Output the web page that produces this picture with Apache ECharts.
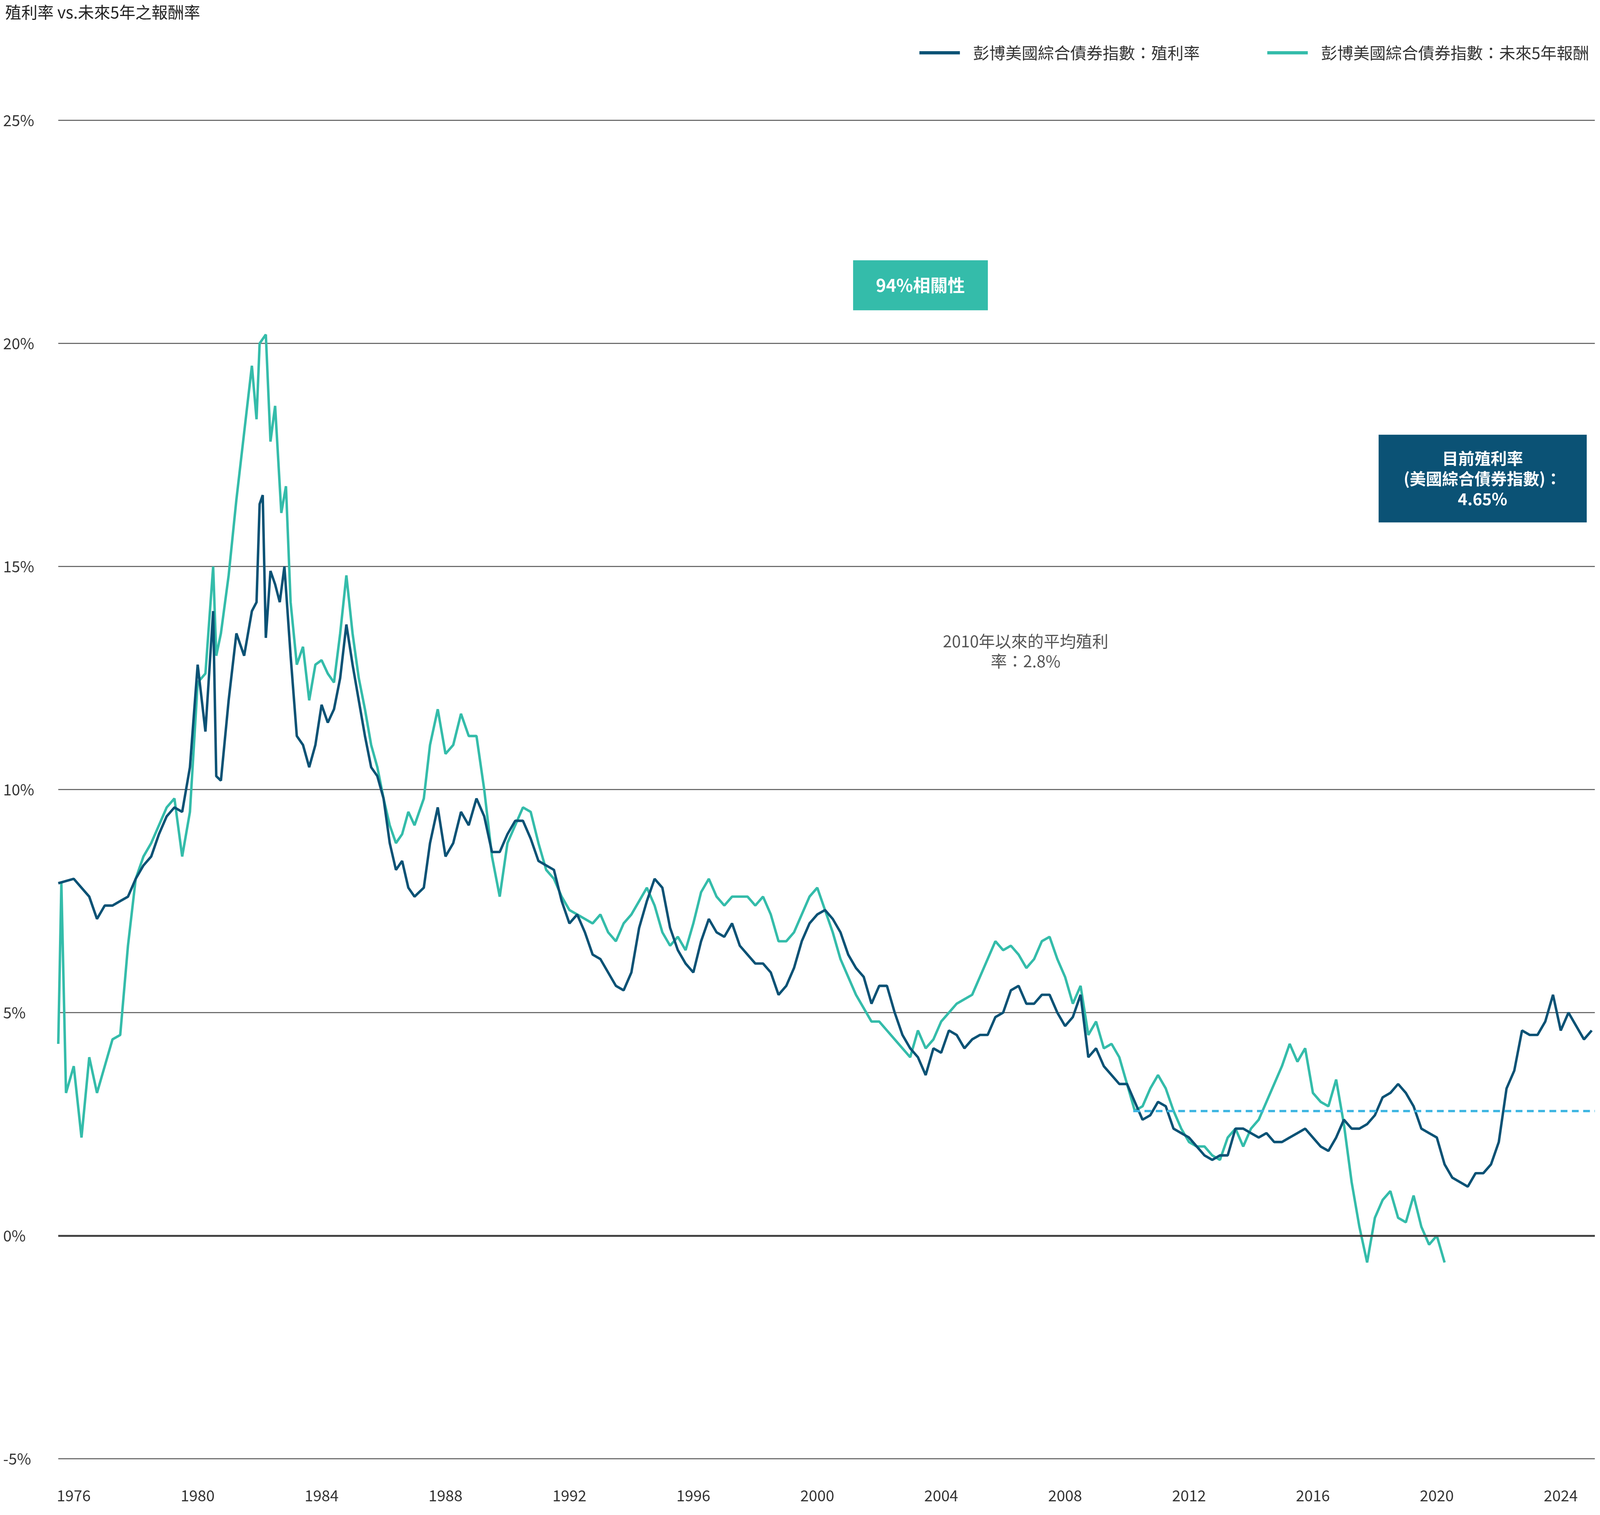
<!DOCTYPE html>
<html><head><meta charset="utf-8">
<script src="https://cdn.jsdelivr.net/npm/echarts@6/dist/echarts.min.js"></script>
<style>html,body{margin:0;padding:0;background:#fff;overflow:hidden}#c{width:100vw;height:100vh}</style>
</head><body><div id="c"></div>
<script>
const yieldData = [[1975.5,7.9],[1976,8.0],[1976.25,7.8],[1976.5,7.6],[1976.75,7.1],[1977,7.4],[1977.25,7.4],[1977.5,7.5],[1977.75,7.6],[1978,8.0],[1978.25,8.3],[1978.5,8.5],[1978.75,9.0],[1979,9.4],[1979.25,9.6],[1979.5,9.5],[1979.75,10.5],[1980,12.8],[1980.25,11.3],[1980.5,14.0],[1980.6,10.3],[1980.75,10.2],[1981,12.0],[1981.25,13.5],[1981.5,13.0],[1981.75,14.0],[1981.9,14.2],[1982.0,16.4],[1982.1,16.6],[1982.2,13.4],[1982.35,14.9],[1982.5,14.6],[1982.65,14.2],[1982.8,15.0],[1983.0,13.0],[1983.2,11.2],[1983.4,11.0],[1983.6,10.5],[1983.8,11.0],[1984.0,11.9],[1984.2,11.5],[1984.4,11.8],[1984.6,12.5],[1984.8,13.7],[1985.0,12.8],[1985.2,12.0],[1985.4,11.2],[1985.6,10.5],[1985.8,10.3],[1986,9.8],[1986.2,8.8],[1986.4,8.2],[1986.6,8.4],[1986.8,7.8],[1987,7.6],[1987.3,7.8],[1987.5,8.8],[1987.75,9.6],[1988,8.5],[1988.25,8.8],[1988.5,9.5],[1988.75,9.2],[1989,9.8],[1989.25,9.4],[1989.5,8.6],[1989.75,8.6],[1990,9.0],[1990.25,9.3],[1990.5,9.3],[1990.75,8.9],[1991,8.4],[1991.25,8.3],[1991.5,8.2],[1991.75,7.5],[1992,7.0],[1992.25,7.2],[1992.5,6.8],[1992.75,6.3],[1993,6.2],[1993.25,5.9],[1993.5,5.6],[1993.75,5.5],[1994,5.9],[1994.25,6.9],[1994.5,7.5],[1994.75,8.0],[1995,7.8],[1995.25,6.9],[1995.5,6.4],[1995.75,6.1],[1996,5.9],[1996.25,6.6],[1996.5,7.1],[1996.75,6.8],[1997,6.7],[1997.25,7.0],[1997.5,6.5],[1997.75,6.3],[1998,6.1],[1998.25,6.1],[1998.5,5.9],[1998.75,5.4],[1999,5.6],[1999.25,6.0],[1999.5,6.6],[1999.75,7.0],[2000,7.2],[2000.25,7.3],[2000.5,7.1],[2000.75,6.8],[2001,6.3],[2001.25,6.0],[2001.5,5.8],[2001.75,5.2],[2002,5.6],[2002.25,5.6],[2002.5,5.0],[2002.75,4.5],[2003,4.2],[2003.25,4.0],[2003.5,3.6],[2003.75,4.2],[2004,4.1],[2004.25,4.6],[2004.5,4.5],[2004.75,4.2],[2005,4.4],[2005.25,4.5],[2005.5,4.5],[2005.75,4.9],[2006,5.0],[2006.25,5.5],[2006.5,5.6],[2006.75,5.2],[2007,5.2],[2007.25,5.4],[2007.5,5.4],[2007.75,5.0],[2008,4.7],[2008.25,4.9],[2008.5,5.4],[2008.75,4.0],[2009,4.2],[2009.25,3.8],[2009.5,3.6],[2009.75,3.4],[2010,3.4],[2010.25,3.0],[2010.5,2.6],[2010.75,2.7],[2011,3.0],[2011.25,2.9],[2011.5,2.4],[2011.75,2.3],[2012,2.2],[2012.25,2.0],[2012.5,1.8],[2012.75,1.7],[2013,1.8],[2013.25,1.8],[2013.5,2.4],[2013.75,2.4],[2014,2.3],[2014.25,2.2],[2014.5,2.3],[2014.75,2.1],[2015,2.1],[2015.25,2.2],[2015.5,2.3],[2015.75,2.4],[2016,2.2],[2016.25,2.0],[2016.5,1.9],[2016.75,2.2],[2017,2.6],[2017.25,2.4],[2017.5,2.4],[2017.75,2.5],[2018,2.7],[2018.25,3.1],[2018.5,3.2],[2018.75,3.4],[2019,3.2],[2019.25,2.9],[2019.5,2.4],[2019.75,2.3],[2020,2.2],[2020.25,1.6],[2020.5,1.3],[2020.75,1.2],[2021,1.1],[2021.25,1.4],[2021.5,1.4],[2021.75,1.6],[2022,2.1],[2022.25,3.3],[2022.5,3.7],[2022.75,4.6],[2023,4.5],[2023.25,4.5],[2023.5,4.8],[2023.75,5.4],[2024,4.6],[2024.25,5.0],[2024.5,4.7],[2024.75,4.4],[2025,4.6]];
const returnData = [[1975.5,4.3],[1975.6,7.9],[1975.75,3.2],[1976,3.8],[1976.25,2.2],[1976.5,4.0],[1976.75,3.2],[1977,3.8],[1977.25,4.4],[1977.5,4.5],[1977.75,6.5],[1978,8.0],[1978.25,8.5],[1978.5,8.8],[1978.75,9.2],[1979,9.6],[1979.25,9.8],[1979.5,8.5],[1979.75,9.5],[1980,12.4],[1980.25,12.6],[1980.5,15.0],[1980.6,13.0],[1980.75,13.5],[1981,14.8],[1981.25,16.5],[1981.5,18.0],[1981.75,19.5],[1981.9,18.3],[1982.0,20.0],[1982.2,20.2],[1982.35,17.8],[1982.5,18.6],[1982.7,16.2],[1982.85,16.8],[1983.0,14.2],[1983.2,12.8],[1983.4,13.2],[1983.6,12.0],[1983.8,12.8],[1984,12.9],[1984.2,12.6],[1984.4,12.4],[1984.6,13.5],[1984.8,14.8],[1985,13.5],[1985.2,12.5],[1985.4,11.8],[1985.6,11.0],[1985.8,10.5],[1986,9.8],[1986.2,9.2],[1986.4,8.8],[1986.6,9.0],[1986.8,9.5],[1987,9.2],[1987.3,9.8],[1987.5,11.0],[1987.75,11.8],[1988,10.8],[1988.25,11.0],[1988.5,11.7],[1988.75,11.2],[1989,11.2],[1989.25,10.0],[1989.5,8.5],[1989.75,7.6],[1990,8.8],[1990.25,9.2],[1990.5,9.6],[1990.75,9.5],[1991,8.8],[1991.25,8.2],[1991.5,8.0],[1991.75,7.6],[1992,7.3],[1992.25,7.2],[1992.5,7.1],[1992.75,7.0],[1993,7.2],[1993.25,6.8],[1993.5,6.6],[1993.75,7.0],[1994,7.2],[1994.25,7.5],[1994.5,7.8],[1994.75,7.4],[1995,6.8],[1995.25,6.5],[1995.5,6.7],[1995.75,6.4],[1996,7.0],[1996.25,7.7],[1996.5,8.0],[1996.75,7.6],[1997,7.4],[1997.25,7.6],[1997.5,7.6],[1997.75,7.6],[1998,7.4],[1998.25,7.6],[1998.5,7.2],[1998.75,6.6],[1999,6.6],[1999.25,6.8],[1999.5,7.2],[1999.75,7.6],[2000,7.8],[2000.25,7.3],[2000.5,6.8],[2000.75,6.2],[2001,5.8],[2001.25,5.4],[2001.5,5.1],[2001.75,4.8],[2002,4.8],[2002.25,4.6],[2002.5,4.4],[2002.75,4.2],[2003,4.0],[2003.25,4.6],[2003.5,4.2],[2003.75,4.4],[2004,4.8],[2004.25,5.0],[2004.5,5.2],[2004.75,5.3],[2005,5.4],[2005.25,5.8],[2005.5,6.2],[2005.75,6.6],[2006,6.4],[2006.25,6.5],[2006.5,6.3],[2006.75,6.0],[2007,6.2],[2007.25,6.6],[2007.5,6.7],[2007.75,6.2],[2008,5.8],[2008.25,5.2],[2008.5,5.6],[2008.75,4.5],[2009,4.8],[2009.25,4.2],[2009.5,4.3],[2009.75,4.0],[2010,3.4],[2010.25,2.8],[2010.5,2.9],[2010.75,3.3],[2011,3.6],[2011.25,3.3],[2011.5,2.8],[2011.75,2.4],[2012,2.1],[2012.25,2.0],[2012.5,2.0],[2012.75,1.8],[2013,1.7],[2013.25,2.2],[2013.5,2.4],[2013.75,2.0],[2014,2.4],[2014.25,2.6],[2014.5,3.0],[2014.75,3.4],[2015,3.8],[2015.25,4.3],[2015.5,3.9],[2015.75,4.2],[2016,3.2],[2016.25,3.0],[2016.5,2.9],[2016.75,3.5],[2017,2.5],[2017.25,1.2],[2017.5,0.2],[2017.75,-0.6],[2018,0.4],[2018.25,0.8],[2018.5,1.0],[2018.75,0.4],[2019,0.3],[2019.25,0.9],[2019.5,0.2],[2019.75,-0.2],[2020,0.0],[2020.25,-0.6]];
const yearTicks = [1976,1980,1984,1988,1992,1996,2000,2004,2008,2012,2016,2020,2024];
const avgYield = 2.8, avgStart = 2010.2, avgEnd = 2025.1;
const seriesNames = ['彭博美國綜合債券指數：殖利率','彭博美國綜合債券指數：未來5年報酬'];
const F = '"Noto Sans CJK TC","Noto Sans",sans-serif';
const chart = echarts.init(document.getElementById('c'));
const s = chart.getWidth()/7112;
const p = v => v*s;
chart.setOption({
  backgroundColor:'#fff', animation:false,
  textStyle:{fontFamily:F},
  title:{text:'殖利率 vs.未來5年之報酬率',left:p(14),top:p(10),textStyle:{fontFamily:F,fontSize:p(72),fontWeight:'normal',color:'#222'}},
  legend:{right:p(40),top:p(190),itemWidth:p(180),itemHeight:p(14),itemGap:p(300),
    textStyle:{fontFamily:F,fontSize:p(72),color:'#333',padding:[0,0,0,p(50)]},
    data:[{name:seriesNames[0],icon:'rect'},{name:seriesNames[1],icon:'rect'}]},
  grid:{left:p(259),right:p(23),top:p(535),bottom:p(250),containLabel:false},
  xAxis:{type:'value',min:1975.5,max:2025.1,
    axisLine:{show:false},axisTick:{show:false},splitLine:{show:false},
    axisLabel:{customValues:yearTicks,formatter:v=>String(v),fontSize:p(68),color:'#333',margin:p(130),fontFamily:F}},
  yAxis:{type:'value',min:-5,max:25,interval:5,
    axisLine:{show:false},axisTick:{show:false},
    splitLine:{lineStyle:{color:'#555',width:p(4)}},
    axisLabel:{formatter:'{value}%',fontSize:p(68),color:'#333',align:'left',margin:p(245),fontFamily:F}},
  series:[
    {name:seriesNames[0],type:'line',data:yieldData,showSymbol:false,z:3,
     lineStyle:{color:'#0b5275',width:p(11)},itemStyle:{color:'#0b5275'},
     markLine:{silent:true,symbol:'none',label:{show:false},
       data:[[{coord:[avgStart,avgYield]},{coord:[avgEnd,avgYield]}]],
       lineStyle:{color:'#3fb6e2',type:[p(30),p(20)],width:p(10)}}},
    {name:seriesNames[1],type:'line',data:returnData,showSymbol:false,z:2,
     lineStyle:{color:'#34bcaa',width:p(11)},itemStyle:{color:'#34bcaa'},
     markLine:{silent:true,symbol:'none',label:{show:false},
       data:[{yAxis:0}],lineStyle:{color:'#444',type:'solid',width:p(9)}}}
  ],
  graphic:[
    {type:'group',x:p(3792),y:p(1157),children:[
      {type:'rect',shape:{width:p(599),height:p(222)},style:{fill:'#34bcaa'}},
      {type:'text',x:p(299),y:p(111),style:{text:'94%相關性',fill:'#fff',font:'bold '+p(77)+'px '+F,textAlign:'center',textVerticalAlign:'middle'}}]},
    {type:'group',x:p(6128),y:p(1932),children:[
      {type:'rect',shape:{width:p(925),height:p(390)},style:{fill:'#0b5275'}},
      {type:'text',x:p(462),y:p(195),style:{text:'目前殖利率\n(美國綜合債券指數)：\n4.65%',fill:'#fff',font:'bold '+p(72)+'px '+F,lineHeight:p(90),textAlign:'center',textVerticalAlign:'middle'}}]},
    {type:'text',x:p(4559),y:p(2894),style:{text:'2010年以來的平均殖利\n率：2.8%',fill:'#555',font:p(72)+'px '+F,lineHeight:p(90),textAlign:'center',textVerticalAlign:'middle'}}
  ]
});
</script></body></html>
